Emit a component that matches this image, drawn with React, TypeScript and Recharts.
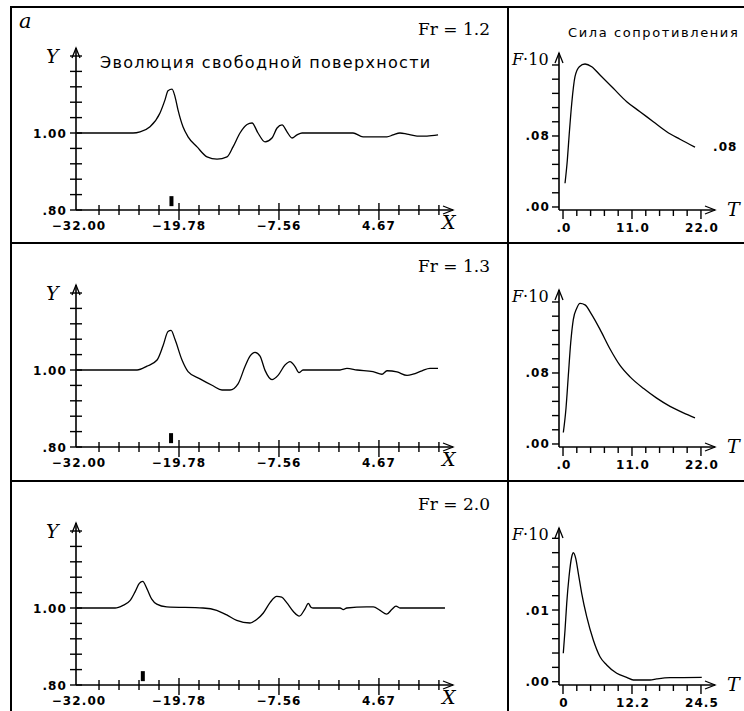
import React from 'react';
import { LineChart, Line, XAxis, YAxis, ReferenceLine } from 'recharts';

// ---------------- data ----------------
// free surface elevation Y(X), three Froude numbers
const surfaceFr12: [number, number][] = [
  [-32.3, 1.0], [-25.4, 1.0], [-24.54, 1.003], [-23.32, 1.016], [-22.1, 1.052], [-21.49, 1.086],
  [-21.12, 1.11], [-20.63, 1.114], [-20.26, 1.094], [-19.9, 1.06], [-19.29, 1.016], [-18.67, 0.99],
  [-17.57, 0.964], [-16.35, 0.938], [-15.13, 0.932], [-13.91, 0.938], [-13.17, 0.964], [-12.32, 1.0],
  [-11.46, 1.022], [-10.85, 1.026], [-10.12, 1.0], [-9.26, 0.977], [-8.41, 0.987], [-7.79, 1.013],
  [-7.18, 1.021], [-6.57, 1.003], [-5.96, 0.987], [-5.35, 0.995], [-4.74, 1.0], [1.5, 1.0],
  [2.72, 0.99], [5.65, 0.99], [6.39, 0.995], [7.24, 1.0], [8.1, 0.997], [9.32, 0.992], [10.54, 0.992],
  [11.89, 0.995],
];
const surfaceFr13: [number, number][] = [
  [-32.3, 1.0], [-24.91, 1.0], [-23.69, 1.01], [-22.46, 1.026], [-21.73, 1.063], [-21.12, 1.1],
  [-20.75, 1.103], [-20.26, 1.079], [-19.41, 1.026], [-18.67, 0.996], [-17.21, 0.977], [-15.62, 0.959],
  [-14.52, 0.948], [-13.54, 0.948], [-12.56, 0.964], [-11.71, 1.009], [-11.1, 1.036], [-10.48, 1.046],
  [-9.87, 1.036], [-9.26, 0.999], [-8.41, 0.975], [-7.67, 0.986], [-6.82, 1.013], [-6.21, 1.022],
  [-5.59, 1.009], [-5.11, 0.993], [-4.62, 1.0], [-0.09, 1.0], [0.76, 1.004], [1.99, 1.0],
  [3.94, 0.996], [5.04, 0.989], [5.65, 0.998], [6.87, 0.995], [8.1, 0.986], [8.83, 0.989],
  [9.93, 0.998], [10.91, 1.004], [11.89, 1.004],
];
const surfaceFr20: [number, number][] = [
  [-32.3, 1.0], [-27.6, 1.0], [-26.62, 1.007], [-25.77, 1.019], [-25.15, 1.042], [-24.63, 1.064],
  [-24.21, 1.069], [-23.72, 1.051], [-23.11, 1.023], [-22.5, 1.01], [-21.28, 1.003], [-16.84, 1.0],
  [-15.17, 0.994], [-13.94, 0.982], [-12.72, 0.968], [-11.1, 0.961], [-10.28, 0.97], [-9.47, 0.987],
  [-8.65, 1.014], [-7.83, 1.03], [-7.22, 1.028], [-6.61, 1.014], [-5.8, 0.991], [-5.07, 0.979],
  [-4.37, 0.998], [-3.97, 1.012], [-3.64, 1.002], [-3.36, 1.0], [-0.09, 1.0], [0.31, 0.996],
  [0.73, 1.0], [3.17, 1.003], [3.98, 1.003], [4.8, 0.994], [5.62, 0.984], [6.23, 0.996],
  [6.75, 1.005], [7.24, 1.0], [12.74, 1.0],
];

// drag force F(T)
const forceFr12: [number, number][] = [
  [0.32, 0.0267], [0.69, 0.053], [1.0, 0.083], [1.39, 0.1166], [1.91, 0.1468], [2.6, 0.1581],
  [3.51, 0.1611], [4.58, 0.1581], [5.9, 0.1487], [8.02, 0.1337], [10.16, 0.1186], [12.28, 0.1074],
  [14.4, 0.0961], [16.54, 0.0848], [18.66, 0.0763], [21.05, 0.0673],
];
const forceFr13: [number, number][] = [
  [0.05, 0.0129], [0.48, 0.0406], [0.85, 0.0774], [1.23, 0.1143], [1.64, 0.1402], [2.19, 0.153],
  [2.71, 0.1585], [3.51, 0.1568], [4.58, 0.1457], [5.9, 0.1291], [7.5, 0.107], [9.09, 0.0885],
  [10.69, 0.0756], [12.81, 0.0627], [14.94, 0.0517], [17.07, 0.0424], [19.19, 0.0351], [21.05, 0.0295],
];
const forceFr20: [number, number][] = [
  [0.05, 0.00396], [0.36, 0.00721], [0.66, 0.01093], [1.07, 0.01464], [1.55, 0.01743], [1.83, 0.01799],
  [2.26, 0.01721], [2.72, 0.01512], [3.32, 0.01233], [4.21, 0.00907], [5.38, 0.00582], [6.57, 0.00349],
  [7.76, 0.00233], [9.54, 0.00117], [11.31, 0.00061], [12.49, 0.00024], [15.45, 0.00024],
  [16.64, 0.00038], [19.0, 0.00056], [24.64, 0.00061],
];

const froudeLabels = ['Fr = 1.2', 'Fr = 1.3', 'Fr = 2.0'];
const bodyPositions = [-20.7, -20.75, -24.2];
const bodyMarkY: [number, number] = [0.81, 0.836];

// surface axes
const xMajorTicks = [-32.0, -19.78, -7.56, 4.67];
const xMajorLabels = ['−32.00', '−19.78', '−7.56', '4.67'];
const xMinorStep = 2.4444;
const xMinorCount = 19;
const xDomain: [number, number] = [-32.37, 13.72];
const yMajorTicks = [0.8, 1.0];
const yMajorLabels = ['.80', '1.00'];
const yMinorStep = 0.04;
const yMinorCount = 11;
const yDomain: [number, number] = [0.8, 1.2208];

// force axes
const tMajorA = [0, 11, 22];
const tLabelsA = ['.0', '11.0', '22.0'];
const tStepA = 2.2;
const tDomainA: [number, number] = [-0.64, 24.24];
const tMajorB = [0, 12.25, 24.5];
const tLabelsB = ['0', '12.2', '24.5'];
const tStepB = 2.45;
const tDomainB: [number, number] = [-0.71, 26.99];
const fMajorA = [0, 0.08];
const fLabelsA = ['.00', '.08'];
const fStepA = 0.016;
const fDomainA: [number, number] = [-0.0034, 0.1735];
const fMajorB = [0, 0.01];
const fLabelsB = ['.00', '.01'];
const fStepB = 0.002;
const fDomainB: [number, number] = [-0.00046, 0.02144];

// ---------------- helpers ----------------
const toPts = (a: [number, number][]) => a.map(([x, y]) => ({ x, y }));
const nearRel = (a: number, b: number, scale: number) => Math.abs(a - b) < scale * 0.05;
const buildTicks = (start: number, step: number, count: number, arrow: number) => {
  const out: number[] = [];
  for (let k = 0; k < count; k++) out.push(Math.round((start + step * k) * 1e6) / 1e6);
  out.push(arrow);
  return out;
};

const TICK_FONT = { fontFamily: 'DejaVu Sans', fontWeight: 700, fontSize: 12, letterSpacing: 1.1 } as const;

type AxisCfg = { majors: number[]; labels: string[]; arrow: number; step: number; style: 'cross' | 'out' };

const makeXTick = (cfg: AxisCfg) => (props: any) => {
  const { x, y, payload } = props;
  const v = payload.value as number;
  if (nearRel(v, cfg.arrow, cfg.step * 0.1)) {
    return (
      <path d={`M${x - 10},${y - 4} L${x},${y} L${x - 10},${y + 4}`} fill="none" stroke="#000" strokeWidth={1.3} />
    );
  }
  const mi = cfg.majors.findIndex((m) => nearRel(m, v, cfg.step));
  if (cfg.style === 'cross') {
    if (mi >= 0) {
      return (
        <g>
          {mi > 0 && <line x1={x} x2={x} y1={y - 7} y2={y + 10} stroke="#000" strokeWidth={1.4} />}
          <text x={x} y={y + 20} textAnchor="middle" fill="#000" style={TICK_FONT}>{cfg.labels[mi]}</text>
        </g>
      );
    }
    return <line x1={x} x2={x} y1={y - 5} y2={y + 5} stroke="#000" strokeWidth={1.4} />;
  }
  return (
    <g>
      <line x1={x} x2={x} y1={y} y2={y + (mi >= 0 ? 9 : 6)} stroke="#000" strokeWidth={1.4} />
      {mi >= 0 && (
        <text x={x + 1} y={y + 22} textAnchor="middle" fill="#000" style={TICK_FONT}>{cfg.labels[mi]}</text>
      )}
    </g>
  );
};

const makeYTick = (cfg: AxisCfg) => (props: any) => {
  const { x, y, payload } = props;
  const v = payload.value as number;
  if (nearRel(v, cfg.arrow, cfg.step * 0.1)) {
    return (
      <path d={`M${x - 4},${y + 10} L${x},${y} L${x + 4},${y + 10}`} fill="none" stroke="#000" strokeWidth={1.3} />
    );
  }
  const mi = cfg.majors.findIndex((m) => nearRel(m, v, cfg.step));
  return (
    <g>
      {cfg.style === 'cross' ? (
        <line x1={x - 6} x2={x + 6} y1={y} y2={y} stroke="#000" strokeWidth={1.4} />
      ) : (
        <line x1={x - 7} x2={x} y1={y} y2={y} stroke="#000" strokeWidth={1.4} />
      )}
      {mi >= 0 && (
        <text x={x - 9} y={y + 4.5} textAnchor="end" fill="#000" style={TICK_FONT}>{cfg.labels[mi]}</text>
      )}
    </g>
  );
};

const surfaces = [surfaceFr12, surfaceFr13, surfaceFr20].map(toPts);
const forces = [forceFr12, forceFr13, forceFr20].map(toPts);
const panelOffsets = [0, 237, 475];

const xTicks = buildTicks(xMajorTicks[0], xMinorStep, xMinorCount, xDomain[1]);
const yTicks = buildTicks(yMajorTicks[0], yMinorStep, yMinorCount, yDomain[1]);
const surfXTick = makeXTick({ majors: xMajorTicks, labels: xMajorLabels, arrow: xDomain[1], step: xMinorStep, style: 'cross' });
const surfYTick = makeYTick({ majors: yMajorTicks, labels: yMajorLabels, arrow: yDomain[1], step: yMinorStep, style: 'cross' });

const forceAxes = [0, 1, 2].map((i) => {
  const b = i === 2;
  const tMaj = b ? tMajorB : tMajorA;
  const fMaj = b ? fMajorB : fMajorA;
  const tDom = b ? tDomainB : tDomainA;
  const fDom = b ? fDomainB : fDomainA;
  const tStep = b ? tStepB : tStepA;
  const fStep = b ? fStepB : fStepA;
  return {
    tDom,
    fDom,
    tTicks: buildTicks(0, tStep, 11, tDom[1]),
    fTicks: buildTicks(0, fStep, 11, fDom[1]),
    xTick: makeXTick({ majors: tMaj, labels: b ? tLabelsB : tLabelsA, arrow: tDom[1], step: tStep, style: 'out' }),
    yTick: makeYTick({ majors: fMaj, labels: b ? fLabelsB : fLabelsA, arrow: fDom[1], step: fStep, style: 'out' }),
  };
});

const AXIS_LINE = { stroke: '#000', strokeWidth: 1.6 };
const SERIF = 'DejaVu Serif';

export default function App() {
  return (
    <div style={{ position: 'absolute', left: 0, top: 0, width: 744, height: 711, background: '#fff', overflow: 'hidden' }}>
      {panelOffsets.map((oy, i) => (
        <React.Fragment key={i}>
          <div style={{ position: 'absolute', left: 0, top: oy }}>
            <LineChart width={500} height={237} margin={{ top: 48, right: 47, bottom: 0, left: 16 }}>
              <XAxis
                type="number"
                dataKey="x"
                domain={xDomain}
                allowDataOverflow
                ticks={xTicks}
                interval={0}
                tickSize={0}
                tickMargin={0}
                tickLine={false}
                height={27}
                axisLine={AXIS_LINE}
                tick={surfXTick}
              />
              <YAxis
                type="number"
                dataKey="y"
                domain={yDomain}
                allowDataOverflow
                ticks={yTicks}
                interval={0}
                width={60}
                tickSize={0}
                tickMargin={0}
                tickLine={false}
                axisLine={AXIS_LINE}
                tick={surfYTick}
              />
              <Line data={surfaces[i]} dataKey="y" type="monotone" dot={false} stroke="#000" strokeWidth={1.3} isAnimationActive={false} />
              <ReferenceLine
                segment={[{ x: bodyPositions[i], y: bodyMarkY[0] }, { x: bodyPositions[i], y: bodyMarkY[1] }]}
                stroke="#000"
                strokeWidth={4}
                ifOverflow="visible"
              />
            </LineChart>
          </div>
          <div style={{ position: 'absolute', left: 508, top: oy }}>
            <LineChart width={236} height={237} margin={{ top: 53, right: 29, bottom: 0, left: 0 }}>
              <XAxis
                type="number"
                dataKey="x"
                domain={forceAxes[i].tDom}
                allowDataOverflow
                ticks={forceAxes[i].tTicks}
                interval={0}
                tickSize={0}
                tickMargin={0}
                tickLine={false}
                height={27}
                axisLine={AXIS_LINE}
                tick={forceAxes[i].xTick}
              />
              <YAxis
                type="number"
                dataKey="y"
                domain={forceAxes[i].fDom}
                allowDataOverflow
                ticks={forceAxes[i].fTicks}
                interval={0}
                width={51}
                tickSize={0}
                tickMargin={0}
                tickLine={false}
                axisLine={AXIS_LINE}
                tick={forceAxes[i].yTick}
              />
              <Line data={forces[i]} dataKey="y" type="monotone" dot={false} stroke="#000" strokeWidth={1.3} isAnimationActive={false} />
            </LineChart>
          </div>
        </React.Fragment>
      ))}
      <svg width={744} height={711} style={{ position: 'absolute', left: 0, top: 0, pointerEvents: 'none' }}>
        <g stroke="#000" strokeWidth={2}>
          <line x1={11} y1={7} x2={744} y2={7} />
          <line x1={11} y1={6} x2={11} y2={711} />
          <line x1={11} y1={243} x2={744} y2={243} />
          <line x1={11} y1={481} x2={744} y2={481} />
          <line x1={508} y1={7} x2={508} y2={711} />
        </g>
        <text x={19} y={28} fontFamily={SERIF} fontStyle="italic" fontSize={21} fill="#000">a</text>
        <text x={100} y={68} fontFamily="DejaVu Sans" fontSize={16} letterSpacing={1.3} fill="#000">
          Эволюция свободной поверхности
        </text>
        <text x={568} y={37} fontFamily="DejaVu Sans" fontSize={13} letterSpacing={1.6} fill="#000">
          Сила сопротивления
        </text>
        <text x={713} y={151} fill="#000" style={TICK_FONT}>.08</text>
        {panelOffsets.map((oy, i) => (
          <g key={i} fill="#000">
            <text x={490} y={oy + 35} textAnchor="end" fontFamily={SERIF} fontSize={17}>{froudeLabels[i]}</text>
            <text x={46} y={oy + 63} fontFamily={SERIF} fontStyle="italic" fontSize={19}>Y</text>
            <text x={442} y={oy + 229} fontFamily={SERIF} fontStyle="italic" fontSize={19}>X</text>
            <text x={512} y={oy + 65} fontFamily={SERIF} fontSize={16}>
              <tspan fontStyle="italic">F</tspan>·10
            </text>
            <text x={727} y={oy + 216} fontFamily={SERIF} fontStyle="italic" fontSize={19}>T</text>
          </g>
        ))}
      </svg>
    </div>
  );
}
